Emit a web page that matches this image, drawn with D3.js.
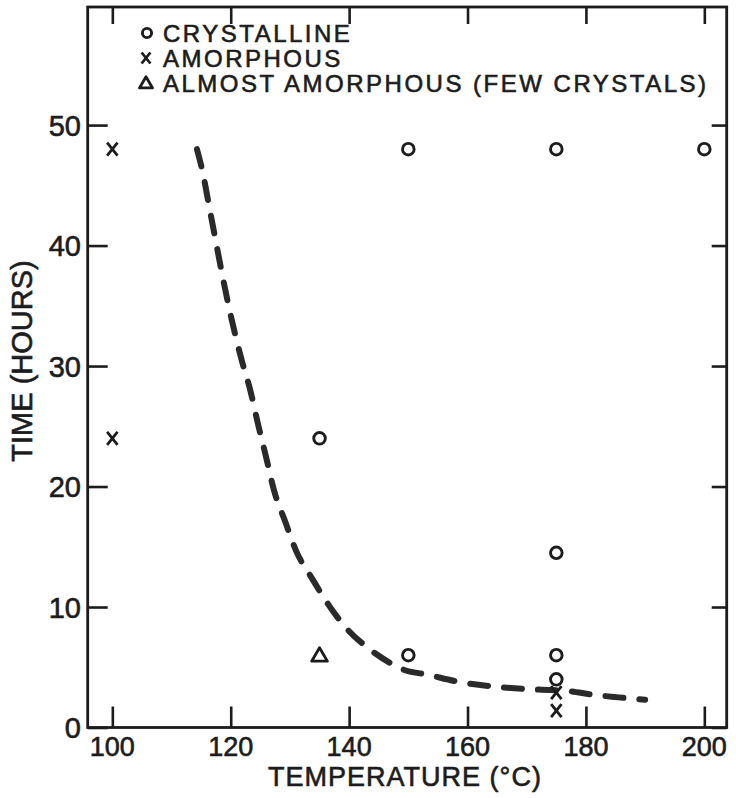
<!DOCTYPE html>
<html>
<head>
<meta charset="utf-8">
<script src="https://cdn.jsdelivr.net/npm/d3@7"></script>
<style>
  html, body { margin: 0; padding: 0; background: #fff; }
  svg { display: block; }
  text { font-family: "Liberation Sans", Arial, sans-serif; fill: #1c1c1c; stroke: #1c1c1c; stroke-width: 0.6px; }
</style>
</head>
<body>
<svg id="chart" width="736" height="798"></svg>
<script>
// ---- data ----
const xTicks = [100, 120, 140, 160, 180, 200];
const yTicks = [0, 10, 20, 30, 40, 50];

const crystallineTemp = [150, 175, 200, 135, 175, 150, 175, 175];
const crystallineTime = [48, 48, 48, 24, 14.5, 6, 6, 4];

const amorphousTemp = [100, 100, 175, 175];
const amorphousTime = [48, 24, 2.9, 1.4];

const almostTemp = [135];
const almostTime = [6];

const curveTemp = [114.3, 115.3, 116.3, 117.5, 118.2, 119.6, 121.9, 123.3, 124.6, 125.9, 127.3, 129.2, 131.1, 133.7, 136.5, 139.6, 143.2, 147.5, 149.2, 153.1, 158.4, 164.4, 169.4, 176.5, 181.5, 185.5, 190.0];
const curveTime = [48.0, 46.0, 43.4, 40.3, 38.5, 35.1, 30.4, 28.0, 25.2, 22.6, 19.7, 17.1, 14.6, 12.4, 10.2, 8.2, 6.6, 5.2, 4.8, 4.4, 3.8, 3.4, 3.2, 3.05, 2.7, 2.5, 2.3];

const legendLabels = ["CRYSTALLINE", "AMORPHOUS", "ALMOST AMORPHOUS (FEW CRYSTALS)"];
const xTitle = "TEMPERATURE (°C)";
const yTitle = "TIME (HOURS)";

// ---- layout ----
const svg = d3.select("#chart");
const ink = "#1c1c1c";
const plotL = 87.7, plotR = 726.7, plotT = 7, plotB = 727.5;

const x = d3.scaleLinear().domain([95.84, 203.78]).range([plotL, plotR]);
const y = d3.scaleLinear().domain([0, 59.8]).range([plotB, plotT]);

// frame
svg.append("rect")
  .attr("x", plotL).attr("y", plotT)
  .attr("width", plotR - plotL).attr("height", plotB - plotT)
  .attr("fill", "none").attr("stroke", ink).attr("stroke-width", 2.8);

// axes with inward ticks
const bottomAxis = svg.append("g").attr("transform", `translate(0,${plotB})`)
  .call(d3.axisTop(x).tickValues(xTicks).tickSize(21).tickFormat(""));
const topAxis = svg.append("g").attr("transform", `translate(0,${plotT})`)
  .call(d3.axisBottom(x).tickValues(xTicks).tickSize(17).tickFormat(""));
const leftAxis = svg.append("g").attr("transform", `translate(${plotL},0)`)
  .call(d3.axisRight(y).tickValues(yTicks).tickSize(20).tickFormat(""));
const rightAxis = svg.append("g").attr("transform", `translate(${plotR},0)`)
  .call(d3.axisLeft(y).tickValues(yTicks).tickSize(15).tickFormat(""));
[bottomAxis, topAxis, leftAxis, rightAxis].forEach(g => {
  g.select(".domain").remove();
  g.selectAll(".tick line").attr("stroke", ink).attr("stroke-width", 2.6);
});

// tick labels
svg.append("g").selectAll("text").data(xTicks).join("text")
  .attr("x", d => x(d)).attr("y", 756)
  .attr("text-anchor", "middle")
  .attr("font-size", 27)
  .text(d => d);

svg.append("g").selectAll("text").data(yTicks).join("text")
  .attr("x", 81).attr("y", d => y(d) + 10.5)
  .attr("text-anchor", "end")
  .attr("font-size", 29)
  .text(d => d);

// axis titles
svg.append("text")
  .attr("x", 405).attr("y", 786)
  .attr("text-anchor", "middle")
  .attr("font-size", 27).attr("letter-spacing", 1)
  .text(xTitle);

svg.append("text")
  .attr("transform", "translate(32,361) rotate(-90)")
  .attr("text-anchor", "middle")
  .attr("font-size", 29)
  .text(yTitle);

// dashed curve
const line = d3.line()
  .x((d, i) => x(curveTemp[i]))
  .y((d, i) => y(curveTime[i]))
  .curve(d3.curveMonotoneX);
svg.append("path")
  .attr("d", line(curveTemp))
  .attr("fill", "none")
  .attr("stroke", "#2a2a2a")
  .attr("stroke-width", 6)
  .attr("stroke-linecap", "round")
  .attr("stroke-dasharray", "18,16");

// marker shapes
function circleMark(g, cx, cy, r) {
  g.append("circle").attr("cx", cx).attr("cy", cy).attr("r", r)
    .attr("fill", "none").attr("stroke", ink).attr("stroke-width", 2.9);
}
function crossMark(g, cx, cy, s) {
  g.append("path")
    .attr("d", `M${cx - s * 0.8},${cy - s}L${cx + s * 0.8},${cy + s}M${cx + s * 0.8},${cy - s}L${cx - s * 0.8},${cy + s}`)
    .attr("stroke", ink).attr("stroke-width", 2.8).attr("fill", "none");
}
function triMark(g, cx, cy, s) {
  g.append("path")
    .attr("d", `M${cx},${cy - s}L${cx + s * 1.05},${cy + s * 0.8}L${cx - s * 1.05},${cy + s * 0.8}Z`)
    .attr("stroke", ink).attr("stroke-width", 2.8).attr("fill", "none")
    .attr("stroke-linejoin", "round");
}

const marks = svg.append("g");
crystallineTemp.forEach((t, i) => circleMark(marks, x(t), y(crystallineTime[i]), 5.8));
amorphousTemp.forEach((t, i) => crossMark(marks, x(t), y(amorphousTime[i]), 6.5));
almostTemp.forEach((t, i) => triMark(marks, x(t), y(almostTime[i]), 7.5));

// legend
const legend = svg.append("g");
const legendY = [42, 67, 92];
circleMark(legend, 147, 33, 4.6);
crossMark(legend, 146, 58, 5.5);
triMark(legend, 146, 83, 6.2);
legend.selectAll("text").data(legendLabels).join("text")
  .attr("x", 163).attr("y", (d, i) => legendY[i])
  .attr("font-size", 24).attr("letter-spacing", 2.5)
  .text(d => d);
</script>
</body>
</html>
